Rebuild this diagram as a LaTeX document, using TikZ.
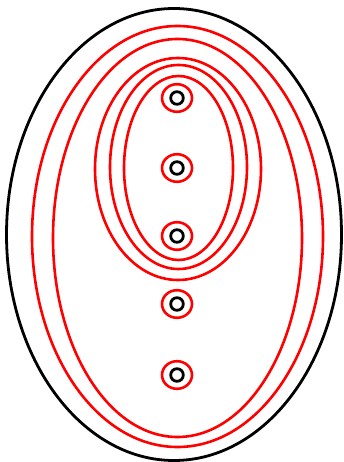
\documentclass[tikz,border=0pt]{standalone}
\begin{document}
\begin{tikzpicture}[x=1pt,y=-1pt,
  blackline/.style={draw=black,line width=2.8pt},
  redline/.style={draw=red,line width=2.6pt}]
\useasboundingbox (0,0) rectangle (343,462);
\draw[blackline] (174,234.5) ellipse [x radius=167.5, y radius=226];
\draw[redline] (177.5,236.5) ellipse [x radius=145.5, y radius=210.5];
\draw[redline] (177.5,238) ellipse [x radius=124.5, y radius=199];
\draw[redline] (178,169) ellipse [x radius=83, y radius=111];
\draw[redline] (178.5,167) ellipse [x radius=68.5, y radius=102];
\draw[redline] (178.5,168) ellipse [x radius=54.5, y radius=92];
\foreach \yy in {98,168,236,304,375}{
  \draw[redline] (177,\yy) ellipse [x radius=15, y radius=13.8];
  \draw[blackline] (177,\yy) circle [radius=6.3];
}
\end{tikzpicture}
\end{document}
